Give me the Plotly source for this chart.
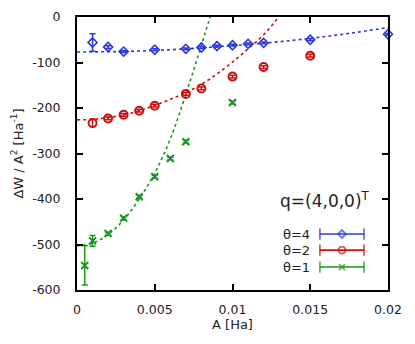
import plotly.graph_objects as go

# measured points, A [Ha] vs dW/A^2 [Ha^-1]
a_t4 = [0.001, 0.002, 0.003, 0.005, 0.007, 0.008, 0.009, 0.010, 0.011, 0.012, 0.015, 0.020]
w_t4 = [-56, -66, -76, -72, -70, -67, -64, -62, -59, -57, -50, -38]
e_t4 = [19, 3, 2, 2, 2, 2, 2, 2, 2, 2, 2, 2]

a_t2 = [0.001, 0.002, 0.003, 0.004, 0.005, 0.007, 0.008, 0.010, 0.012, 0.015]
w_t2 = [-233, -223, -215, -206, -195, -169, -157, -131, -110, -85]
e_t2 = [8, 3, 3, 3, 3, 3, 3, 3, 3, 3]

a_t1 = [0.0005, 0.001, 0.002, 0.003, 0.004, 0.005, 0.006, 0.007, 0.010]
w_t1 = [-546, -492, -476, -442, -395, -351, -311, -274, -188]
e_t1 = [43, 12, 3, 3, 3, 3, 3, 3, 3]

# fitted curves
fa_t4 = [0, 0.0025, 0.005, 0.0075, 0.010, 0.0125, 0.015, 0.0175, 0.020]
fw_t4 = [-77, -76, -73.5, -69, -63, -56, -47, -36, -23]

fa_t2 = [0, 0.001, 0.002, 0.003, 0.004, 0.005, 0.006, 0.007, 0.008, 0.009, 0.010, 0.011, 0.012, 0.013, 0.014]
fw_t2 = [-226, -225, -221, -215, -206, -194, -181, -166, -148, -125, -99, -70, -39, 1, 45]

fa_t1 = [0, 0.001, 0.002, 0.003, 0.004, 0.005, 0.006, 0.007, 0.008, 0.009]
fw_t1 = [-503, -497, -478, -446, -400, -343, -268, -170, -62, 50]

y_ticks = [0, -100, -200, -300, -400, -500, -600]
y_labels = ["0", "-100", "-200", "-300", "-400", "-500", "-600"]

BLUE = "#2b3ad8"
RED = "#cc1010"
GREEN = "#1b961e"

series = [
    ("θ=4", a_t4, w_t4, e_t4, fa_t4, fw_t4, BLUE, "diamond-open", 7, 1.6),
    ("θ=2", a_t2, w_t2, e_t2, fa_t2, fw_t2, RED, "circle-open", 8, 2),
    ("θ=1", a_t1, w_t1, e_t1, fa_t1, fw_t1, GREEN, "x-thin-open", 7, 2),
]

fig = go.Figure()

for name, xa, yw, err, fx, fy, col, sym, sz, lw in series:
    fig.add_trace(go.Scatter(
        x=fx, y=fy, mode="lines", line=dict(color=col, width=1.6, dash="dot", shape="spline"),
        showlegend=False, hoverinfo="skip"))

for name, xa, yw, err, fx, fy, col, sym, sz, lw in series:
    fig.add_trace(go.Scatter(
        x=xa, y=yw, mode="markers", name=name, cliponaxis=False,
        marker=dict(symbol=sym, size=sz, color=col, line=dict(color=col, width=lw)),
        error_y=dict(type="data", array=err, color=col, thickness=1.5, width=3),
        showlegend=False))

# hand-drawn key in gnuplot style (text left, sample with caps right)
key_rows = [0.205, 0.146, 0.084]
for (name, xa, yw, err, fx, fy, col, sym, sz, lw), ky in zip(series, key_rows):
    fig.add_trace(go.Scatter(
        x=[0.781, 0.852, 0.923], y=[ky, ky, ky], xaxis="x2", yaxis="y2",
        mode="lines+markers", line=dict(color=col, width=1.6),
        marker=dict(symbol=["line-ns", sym, "line-ns"], size=[8, sz - 1, 8],
                    color=col, line=dict(color=col, width=1.8)),
        showlegend=False, hoverinfo="skip", cliponaxis=False))
    fig.add_annotation(x=0.756, y=ky, xref="paper", yref="paper", text=name,
                       showarrow=False, xanchor="right", yanchor="middle",
                       font=dict(size=13, color="#222"))

fig.add_annotation(x=0.95, y=0.33, xref="paper", yref="paper",
                   text="q=(4,0,0)<sup>T</sup>", showarrow=False,
                   xanchor="right", yanchor="middle", font=dict(size=17, color="#222"))

axis_style = dict(showline=True, linecolor="black", linewidth=2, mirror="ticks",
                  ticks="inside", ticklen=6, tickwidth=1.5, tickcolor="black",
                  showgrid=False, zeroline=False, automargin=False,
                  tickfont=dict(size=12.5, color="#222"))

# page body adds an 8px offset, so the figure is a bit smaller than the window
fig.update_layout(
    width=407, height=336,
    margin=dict(l=69, r=27, t=9, b=54),
    paper_bgcolor="white", plot_bgcolor="white",
    font=dict(family="DejaVu Sans", color="#222"),
    xaxis=dict(range=[0, 0.02], dtick=0.005, tick0=0, ticklabelstandoff=7,
               title=dict(text="A [Ha]", font=dict(size=13), standoff=4), **axis_style),
    yaxis=dict(range=[-600, 0], tickmode="array", tickvals=y_ticks, ticktext=y_labels,
               ticklabelstandoff=12,
               title=dict(text="ΔW / A<sup>2</sup> [Ha<sup>-1</sup>]", font=dict(size=13), standoff=6),
               **axis_style),
    xaxis2=dict(overlaying="x", range=[0, 1], visible=False),
    yaxis2=dict(overlaying="y", range=[0, 1], visible=False),
    showlegend=False,
)

fig.write_html("out.html")
